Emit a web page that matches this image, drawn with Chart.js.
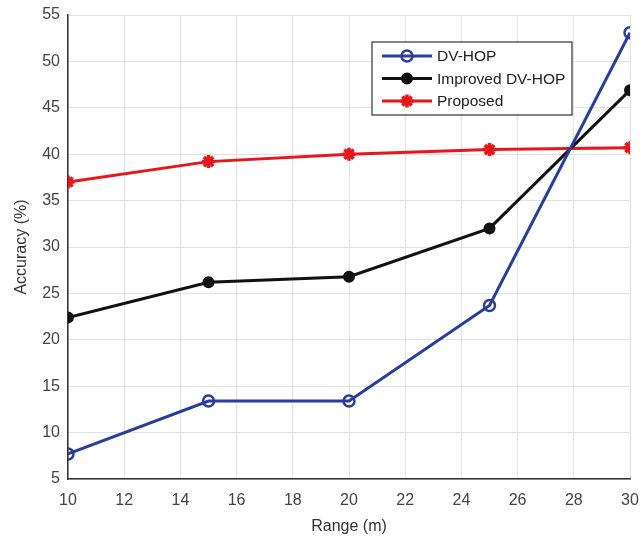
<!DOCTYPE html>
<html>
<head>
<meta charset="utf-8">
<script src="https://cdn.jsdelivr.net/npm/chart.js@4/dist/chart.umd.min.js"></script>
<style>
  html, body { margin: 0; padding: 0; background: #fff; }
  #wrap { width: 643px; height: 540px; }
</style>
</head>
<body>
<div id="wrap"><canvas id="chart" width="643" height="540"></canvas></div>
<script>
const ranges = [10, 15, 20, 25, 30];
const dvHop = [7.7, 13.4, 13.4, 23.7, 53.1];
const improvedDvHop = [22.4, 26.2, 26.8, 32.0, 46.9];
const proposed = [37.0, 39.2, 40.0, 40.5, 40.7];
const xTicks = [10, 12, 14, 16, 18, 20, 22, 24, 26, 28, 30];
const yTicks = [5, 10, 15, 20, 25, 30, 35, 40, 45, 50, 55];

const toPoints = vals => ranges.map((r, i) => ({ x: r, y: vals[i] }));
const font = '"Liberation Sans", Arial, sans-serif';

// legend box drawn by hand, MATLAB style
const boxLegend = {
  id: 'boxLegend',
  afterDraw(chart) {
    const c = chart.ctx;
    const x0 = 372, y0 = 42, w = 200, h = 73;
    c.save();
    c.fillStyle = '#fff';
    c.fillRect(x0, y0, w, h);
    c.strokeStyle = '#333';
    c.lineWidth = 1.2;
    c.strokeRect(x0, y0, w, h);
    c.font = '15.5px ' + font;
    c.textBaseline = 'middle';
    chart.data.datasets.forEach((ds, i) => {
      const y = y0 + 14 + i * 22.5;
      c.strokeStyle = ds.borderColor;
      c.lineWidth = 3;
      c.beginPath();
      c.moveTo(x0 + 10, y);
      c.lineTo(x0 + 60, y);
      c.stroke();
      c.fillStyle = ds.pointBackgroundColor;
      c.strokeStyle = ds.pointBorderColor;
      c.lineWidth = ds.pointBorderWidth;
      Chart.helpers.drawPoint(c, {
        pointStyle: ds.pointStyle,
        radius: ds.pointRadius,
        borderWidth: ds.pointBorderWidth
      }, x0 + 35, y);
      c.fillStyle = '#222';
      c.fillText(ds.label, x0 + 65, y + 1);
    });
    c.restore();
  }
};

const ctx = document.getElementById('chart').getContext('2d');
new Chart(ctx, {
  type: 'line',
  data: {
    datasets: [{
      label: 'DV-HOP',
      data: toPoints(dvHop),
      borderColor: '#2b3d9c',
      backgroundColor: '#ffffff',
      pointBorderColor: '#2b3d9c',
      pointBackgroundColor: 'rgba(255,255,255,0)',
      pointStyle: 'circle',
      pointRadius: 5.5,
      pointBorderWidth: 2.5,
      borderWidth: 3,
      tension: 0
    }, {
      label: 'Improved DV-HOP',
      data: toPoints(improvedDvHop),
      borderColor: '#111111',
      backgroundColor: '#111111',
      pointBorderColor: '#111111',
      pointBackgroundColor: '#111111',
      pointStyle: 'circle',
      pointRadius: 5,
      pointBorderWidth: 2,
      borderWidth: 3,
      tension: 0
    }, {
      label: 'Proposed',
      data: toPoints(proposed),
      borderColor: '#e8161b',
      backgroundColor: '#e8161b',
      pointBorderColor: '#e8161b',
      pointBackgroundColor: '#e8161b',
      pointStyle: 'star',
      pointRadius: 6.5,
      pointBorderWidth: 3.5,
      borderWidth: 3,
      tension: 0
    }]
  },
  options: {
    responsive: false,
    animation: false,
    layout: { padding: { top: 15, right: 13, left: 0, bottom: 0 } },
    plugins: {
      legend: { display: false },
      tooltip: { enabled: false }
    },
    scales: {
      x: {
        type: 'linear',
        min: 10,
        max: 30,
        afterBuildTicks: s => { s.ticks = xTicks.map(v => ({ value: v })); },
        afterFit: s => { s.height = 61; s.paddingRight = 0; s.paddingLeft = 0; },
        ticks: { color: '#444', font: { size: 16, family: font }, padding: 12 },
        grid: { color: '#e2e2e2', drawTicks: false },
        border: { color: '#333', width: 1.5 },
        title: { display: true, text: 'Range (m)', color: '#333', font: { size: 16, family: font }, padding: { top: 4 } }
      },
      y: {
        min: 5,
        max: 55,
        afterBuildTicks: s => { s.ticks = yTicks.map(v => ({ value: v })); },
        afterFit: s => { s.width = 68; s.paddingTop = 0; s.paddingBottom = 0; },
        ticks: { color: '#444', font: { size: 16, family: font }, padding: 8 },
        grid: { color: '#e2e2e2', drawTicks: false },
        border: { color: '#333', width: 1.5 },
        title: { display: true, text: 'Accuracy (%)', color: '#333', font: { size: 16, family: font }, padding: { top: 12, bottom: 0 } }
      }
    }
  },
  plugins: [boxLegend]
});
</script>
</body>
</html>
